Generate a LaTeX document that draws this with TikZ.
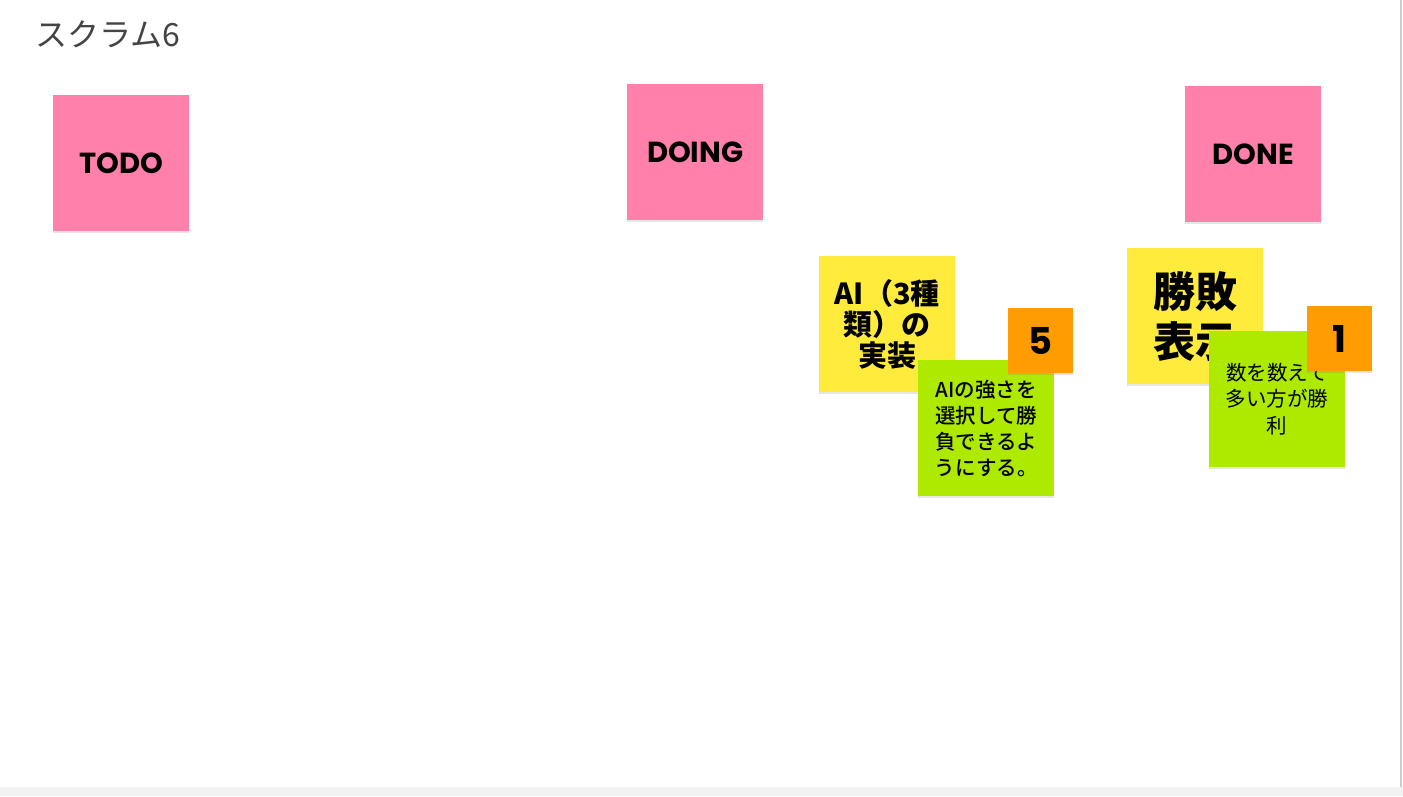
\documentclass[tikz,border=0pt]{standalone}
\usepackage{fontspec}
\setmainfont{Poppins}
\newfontfamily\jpfont{Noto Sans CJK JP}
\newfontfamily\jpmedium{Noto Sans CJK JP Medium}
\usetikzlibrary{shadows}
\definecolor{notepink}{HTML}{FF80AB}
\definecolor{noteyellow}{HTML}{FFEB3B}
\definecolor{notegreen}{HTML}{AEEA00}
\definecolor{noteorange}{HTML}{FF9D00}
\definecolor{titlegray}{HTML}{444444}
\definecolor{framegray}{HTML}{F2F2F2}
\tikzset{%
    note/.style={anchor=north west, inner sep=0pt, minimum size=136pt, align=center,
        drop shadow={shadow xshift=0pt, shadow yshift=-1.5pt, opacity=0.2}},
    pointnote/.style={note, minimum size=65pt, fill=noteorange},
    column/.style={note, fill=notepink, font=\fontsize{29}{33}\selectfont\bfseries}
}

\begin{document}
\begin{tikzpicture}[x=1pt,y=-1pt]
      \useasboundingbox (0,0) rectangle (1403,796);
      \fill[white] (0,0) rectangle (1403,796);
      \fill[framegray] (0,787) rectangle (1403,796);
      \draw[gray!40,line width=1.5pt] (1401,0) -- (1401,787);

      \node[anchor=west, text=titlegray, font=\jpfont\fontsize{32}{36}\selectfont] (title) at (32,34) {スクラム6};

      % columns
      \node[column] (todo) at (53,95) {TODO};
      \node[column] (doing) at (627,84) {DOING};
      \node[column] (done) at (1185,86) {DONE};

      % doing
      \node[note, fill=noteyellow, font=\jpfont\fontsize{29}{31}\selectfont\bfseries] (aiTask) at (819,256) {AI（3種\\類）の\\実装};
      \node[note, fill=notegreen, font=\jpmedium\fontsize{20.5}{26}\selectfont] (aiStory) at (918,360) {AIの強さを\\選択して勝\\負できるよ\\うにする。};
      \node[pointnote, font=\fontsize{37}{40}\selectfont\bfseries] (aiPoint) at (1008,308) {5};

      % done
      \node[note, fill=noteyellow, font=\jpfont\fontsize{42}{50}\selectfont\bfseries] (resultTask) at (1127,248) {勝敗\\表示};
      \node[note, fill=notegreen, font=\jpfont\fontsize{20.5}{26.5}\selectfont] (resultStory) at (1209,331) {数を数えて\\多い方が勝\\利};
      \node[pointnote, font=\fontsize{37}{40}\selectfont\bfseries] (resultPoint) at (1307,306) {1};
\end{tikzpicture}
\end{document}
